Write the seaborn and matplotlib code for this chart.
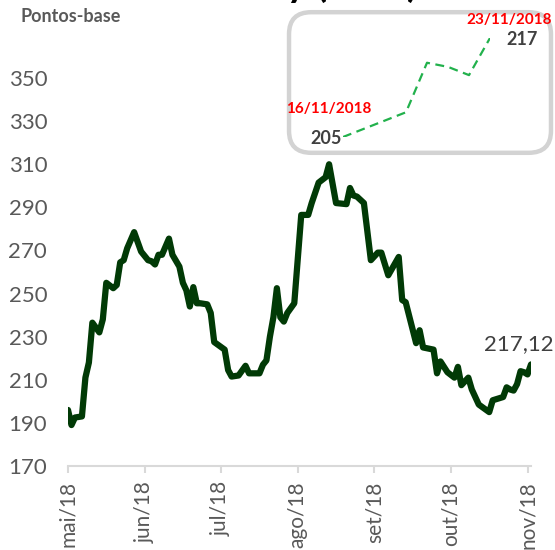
import pandas as pd
import numpy as np
import matplotlib.pyplot as plt
import seaborn as sns
from matplotlib.patches import FancyBboxPatch

# dados (dia util, pontos-base)
dia = [0, 1, 2, 4, 5, 6, 7, 9, 10, 11, 13, 14, 15, 16, 17, 19, 21, 23, 24, 25,
       26, 27, 29, 30, 32, 33, 34, 35, 36, 37, 38, 40, 41, 42, 45, 46, 47, 49, 51, 52,
       55, 56, 57, 58, 59, 60, 61, 62, 63, 65, 67, 69, 70, 72, 74, 75, 77, 80, 81, 82,
       83, 85, 87, 89, 90, 92, 95, 96, 97, 100, 101, 102, 105, 106, 107, 109, 111, 112, 113, 115,
       116, 118, 121, 122, 125, 126, 127, 128, 129, 130, 131, 132, 133]
pb = [196, 189, 192.5, 193, 211, 218, 236.5, 232, 238, 255, 252.5, 254, 264.5, 265.5, 271, 278.5, 269.5, 265.5, 265, 263.5,
      268, 268, 275.5, 268, 262.5, 255, 251.5, 244, 253, 245.5, 245.5, 245, 241, 227.5, 224, 214.5, 211.5, 212, 216.5, 213,
      213, 217, 219, 230, 239, 252.5, 239, 237, 241, 245.5, 286.5, 286.5, 292, 301.5, 304, 310, 292, 291.5, 299, 295.5,
      295, 292, 265.5, 269, 269, 258.5, 267, 247, 246, 227, 233, 225, 224, 213, 218.5, 213.5, 211, 216, 207.5, 211,
      205.5, 198.5, 195, 200.5, 202, 206.5, 205.5, 205, 208, 214, 213.5, 212.5, 217.12]

meses = ['mai/18', 'jun/18', 'jul/18', 'ago/18', 'set/18', 'out/18', 'nov/18']
pos_meses = [0, 22, 44, 66, 88, 110, 132]

# detalhe da ultima semana
dia_nov = [16, 19, 20, 21, 22, 23]
pb_nov = [205, 208, 214, 213.5, 212.5, 217]

x = pd.DataFrame({'dia': dia, 'pb': pb})
z = pd.DataFrame({'dia': dia_nov, 'pb': pb_nov})

sns.set_theme(style='white')
plt.rcParams['font.family'] = ['Lato', 'DejaVu Sans']

W, H = 555, 550
fig = plt.figure(figsize=(5.55, 5.5), dpi=100)
ax = fig.add_axes([68 / W, 1 - 466 / H, (531 - 68) / W, (466 - 56.5) / H])

sns.lineplot(x='dia', y='pb', data=x, ax=ax, color='#013a06', linewidth=4.5,
             estimator=None, sort=False)
ax.set_xlim(0, 133)
ax.set_ylim(170, 360)
ax.set_yticks(range(170, 351, 20))
ax.set_xticks(pos_meses)
ax.set_xticklabels(meses, rotation=90, va='top', ha='center')
ax.set_xlabel('')
ax.set_ylabel('')
for s in ['left', 'right', 'top']:
    ax.spines[s].set_visible(False)
ax.spines['bottom'].set_color('#d9d9d9')
ax.spines['bottom'].set_linewidth(1.5)
ax.tick_params(axis='y', length=0, pad=15, labelsize=16, labelcolor='#595959')
ax.tick_params(axis='x', length=5, width=1.5, color='#d9d9d9', pad=6,
               labelsize=15, labelcolor='#595959', bottom=True)
ax.text(139.5, 222, '217,12', fontsize=16, color='#404040', ha='right', va='bottom')

fig.text(20 / W, 1 - 17 / H, 'Pontos-base', fontsize=13, fontweight='bold',
         color='#595959', va='center', ha='left')

# titulo cortado no topo
fig.text(418 / W, 1 + 3 / H, 'CDS Brasil 5y (USD)', fontsize=28, fontweight='bold',
         color='black', ha='right', va='baseline')

# caixa do detalhe
box = FancyBboxPatch((309 / W, 1 - 133 / H), (531 - 309) / W, (133 - 32) / H,
                     boxstyle='round,pad=0.036,rounding_size=0.04',
                     transform=fig.transFigure, facecolor='white', edgecolor='#d3d3d3',
                     linewidth=3.2, zorder=5)
fig.patches.append(box)

ax2 = fig.add_axes([343 / W, 1 - 137 / H, (490 - 343) / W, (137 - 38) / H], zorder=6)
ax2.set_facecolor('none')
sns.lineplot(x='dia', y='pb', data=z, ax=ax2, color='#22b14c', linewidth=1.6,
             linestyle=(0, (4, 2.5)), estimator=None)
ax2.set_xlim(16, 23)
ax2.set_ylim(205, 217)
ax2.axis('off')
ax2.annotate('16/11/2018', (16, 205), xytext=(-10, 20), textcoords='offset points',
             color='#ff0000', fontsize=11, fontweight='bold', ha='center', va='center',
             annotation_clip=False)
ax2.annotate('205', (16, 205), xytext=(-12, -1), textcoords='offset points',
             color='#404040', fontsize=13, fontweight='bold', ha='center', va='center',
             annotation_clip=False)
ax2.annotate('23/11/2018', (23, 217), xytext=(14, 13), textcoords='offset points',
             color='#ff0000', fontsize=11, fontweight='bold', ha='center', va='center',
             annotation_clip=False)
ax2.annotate('217', (23, 217), xytext=(23, -1), textcoords='offset points',
             color='#404040', fontsize=13, fontweight='bold', ha='center', va='center',
             annotation_clip=False)

fig.savefig('out.png', dpi=100)
